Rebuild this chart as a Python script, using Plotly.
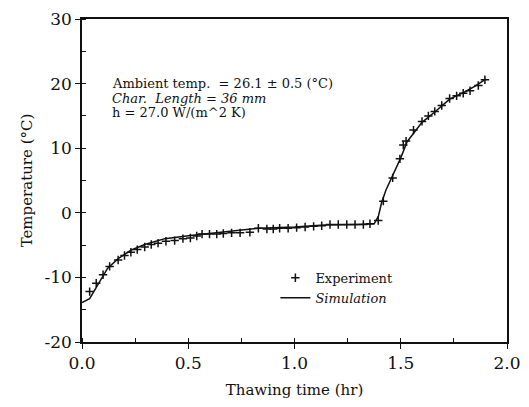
import plotly.graph_objects as go

# Experimental data (thawing time in hr, temperature in °C)
exp_t = [0.036, 0.067, 0.099, 0.13, 0.17, 0.20, 0.23, 0.26, 0.295, 0.326, 0.358, 0.395,
         0.436, 0.475, 0.51, 0.54, 0.565, 0.60, 0.634, 0.665, 0.704, 0.744, 0.79, 0.83,
         0.87, 0.90, 0.93, 0.97, 1.01, 1.05, 1.09, 1.128, 1.167, 1.206, 1.246, 1.285,
         1.324, 1.355, 1.394, 1.418, 1.462, 1.496, 1.512, 1.525, 1.56, 1.60, 1.63, 1.66,
         1.693, 1.73, 1.763, 1.794, 1.826, 1.865, 1.896]
exp_T = [-12.2, -10.9, -9.6, -8.3, -7.3, -6.6, -6.1, -5.7, -5.3, -4.9, -4.7, -4.4,
         -4.3, -4.0, -3.9, -3.6, -3.3, -3.3, -3.3, -3.2, -3.1, -3.1, -3.0, -2.4,
         -2.5, -2.5, -2.4, -2.4, -2.3, -2.2, -2.1, -2.0, -1.8, -1.8, -1.8, -1.8,
         -1.8, -1.7, -1.2, 1.8, 5.4, 8.35, 10.5, 11.1, 12.8, 14.15, 15.0, 15.7,
         16.6, 17.7, 18.1, 18.5, 18.9, 19.7, 20.6]

# Simulation curve
sim_t = [0.0, 0.036, 0.075, 0.12, 0.17, 0.23, 0.295, 0.39, 0.51, 0.65, 0.83, 1.0, 1.14,
         1.3, 1.375, 1.395, 1.41, 1.43, 1.455, 1.5, 1.53, 1.6, 1.66, 1.73, 1.8, 1.85, 1.9]
sim_T = [-13.9, -13.3, -11.1, -8.6, -7.1, -5.8, -4.9, -4.0, -3.5, -3.0, -2.4, -2.2, -1.9,
         -1.8, -1.7, -0.5, 1.6, 3.5, 5.2, 8.5, 11.0, 14.0, 15.6, 17.6, 18.7, 19.6, 20.7]

x_ticks = [0.0, 0.5, 1.0, 1.5, 2.0]
x_labels = ["0.0", "0.5", "1.0", "1.5", "2.0"]
y_ticks = [-20, -10, 0, 10, 20, 30]
y_labels = ["-20", "-10", "0", "10", "20", "30"]

FONT = "DejaVu Serif"
INK = "#111111"

fig = go.Figure()
fig.add_trace(go.Scatter(
    x=exp_t, y=exp_T, mode="markers", name="Experiment",
    marker=dict(symbol="cross-thin", size=6, line=dict(width=1.5, color=INK), color=INK),
))
fig.add_trace(go.Scatter(
    x=sim_t, y=sim_T, mode="lines", name="<i>Simulation</i>",
    line=dict(color=INK, width=1.5),
))

axis_common = dict(
    showline=True, linecolor=INK, linewidth=1.5, mirror=True,
    showgrid=False, zeroline=False, automargin=False,
    ticks="outside", ticklen=5, tickwidth=1.2, tickcolor=INK,
    tickfont=dict(family=FONT, size=17, color=INK),
    ticklabeloverflow="allow",
)

fig.update_xaxes(
    range=[0, 2.0], tickvals=x_ticks, ticktext=x_labels,
    minor=dict(ticks="inside", dtick=0.25, ticklen=4, tickwidth=1, tickcolor=INK),
    title=dict(text="Thawing time (hr)", font=dict(family=FONT, size=15, color=INK), standoff=12),
    **axis_common,
)
fig.update_yaxes(
    range=[-20, 30], tickvals=y_ticks, ticktext=y_labels,
    minor=dict(ticks="inside", dtick=5, ticklen=4, tickwidth=1, tickcolor=INK),
    title=dict(text="Temperature (°C)", font=dict(family=FONT, size=15, color=INK), standoff=8),
    **axis_common,
)

ann_font = dict(family=FONT, size=13, color=INK)
fig.add_annotation(x=0.066, y=0.80, xref="paper", yref="paper", xanchor="left", yanchor="middle",
                   text="Ambient temp.  = 26.1 ± 0.5 (°C)", showarrow=False, font=ann_font)
fig.add_annotation(x=0.066, y=0.755, xref="paper", yref="paper", xanchor="left", yanchor="middle",
                   text="<i>Char.  Length = 36 mm</i>", showarrow=False, font=ann_font)
fig.add_annotation(x=0.066, y=0.71, xref="paper", yref="paper", xanchor="left", yanchor="middle",
                   text="h = 27.0 W/(m^2 K)", showarrow=False, font=ann_font)

# page body adds an 8px offset; size the figure so the plot area lands near x 82-507, y 19-342
fig.update_layout(
    width=521, height=399,
    margin=dict(l=74, r=22, t=11, b=65),
    paper_bgcolor="white", plot_bgcolor="white",
    showlegend=True,
    legend=dict(x=0.455, y=0.245, xanchor="left", yanchor="top",
                bgcolor="rgba(0,0,0,0)", font=dict(family=FONT, size=13, color=INK),
                tracegroupgap=0, itemwidth=30),
)

fig.write_html("out.html")
